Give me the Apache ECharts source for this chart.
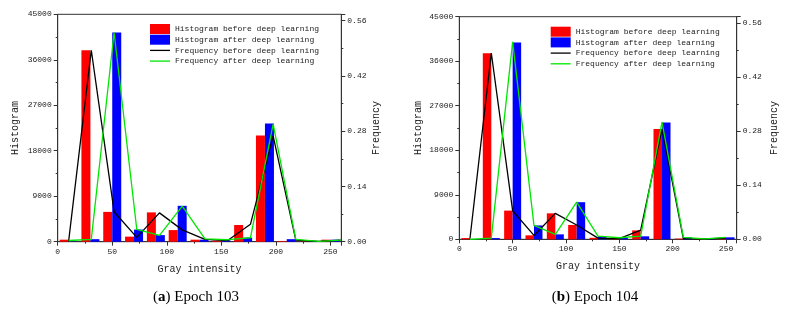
<!DOCTYPE html>
<html>
<head>
<meta charset="utf-8">
<script src="https://cdn.jsdelivr.net/npm/echarts@6/dist/echarts.min.js"></script>
<style>
  html, body { margin: 0; padding: 0; background: #fff; }
  #chart { width: 795px; height: 321px; }
</style>
</head>
<body>
<div id="chart"></div>
<script>
// bin positions (gray level) of the histogram bars
const binX = [10, 30, 50, 70, 90, 110, 130, 150, 170, 190, 210, 230, 250];
// x positions of the frequency polylines
const lineX103 = [10, 30.8, 51.7, 72.5, 93.3, 114.2, 135, 155.8, 176.7, 197.5, 218.3, 239.2, 260];
const lineX104 = [10, 30, 50, 70, 90, 110, 130, 150, 170, 190, 210, 230, 250];

// Epoch 103
const histBefore103 = [400, 37900, 5900, 1000, 5800, 2300, 400, 200, 3300, 21000, 150, 50, 400];
const histAfter103  = [50, 500, 41400, 2400, 1300, 7100, 400, 300, 800, 23400, 500, 50, 400];
const freqBefore103 = [0.001, 0.485, 0.076, 0.011, 0.073, 0.030, 0.006, 0.003, 0.044, 0.268, 0.004, 0.001, 0.004];
const freqAfter103  = [0.003, 0.006, 0.530, 0.031, 0.016, 0.090, 0.007, 0.005, 0.010, 0.298, 0.006, 0.001, 0.004];

// Epoch 104
const histBefore104 = [250, 37600, 5800, 800, 5250, 2900, 300, 200, 1800, 22300, 150, 50, 300];
const histAfter104  = [30, 250, 39800, 2800, 1000, 7500, 600, 300, 600, 23600, 400, 30, 400];
const freqBefore104 = [0.002, 0.482, 0.074, 0.010, 0.067, 0.037, 0.003, 0.002, 0.024, 0.286, 0.002, 0.001, 0.003];
const freqAfter104  = [0.000, 0.003, 0.511, 0.036, 0.013, 0.096, 0.008, 0.004, 0.008, 0.303, 0.005, 0.001, 0.005];

const names = ['Histogram before deep learning', 'Histogram after deep learning',
               'Frequency before deep learning', 'Frequency after deep learning'];

const mono = "'Liberation Mono', 'DejaVu Sans Mono', monospace";
const serif = "'Liberation Serif', 'DejaVu Serif', serif";
const axisColor = '#333';
// thin bar used as legend icon for the polylines
const lineIcon = 'path://M0,0L20,0L20,1.3L0,1.3Z';

function zip(xs, ys) {
  return xs.map((x, i) => [x, ys[i]]);
}

const panels = [
  { grid: { left: 57.7, top: 14.3, width: 283.6, height: 227.4 },
    barWidth: 9, lineX: lineX103,
    hb: histBefore103, ha: histAfter103, fb: freqBefore103, fa: freqAfter103,
    gapL: 37, gapR: 30, gapX: 23, legend: { left: 150, top: 24 },
    caption: { x: 196, y: 297, label: 'a', epoch: '103' } },
  { grid: { left: 459.3, top: 16.7, width: 277.4, height: 222.6 },
    barWidth: 8.5, lineX: lineX104,
    hb: histBefore104, ha: histAfter104, fb: freqBefore104, fa: freqAfter104,
    gapL: 36, gapR: 33, gapX: 22, legend: { left: 550.7, top: 26.7 },
    caption: { x: 595, y: 297, label: 'b', epoch: '104' } }
];

const option = {
  backgroundColor: '#fff',
  animation: false,
  grid: [], xAxis: [], yAxis: [], series: [], legend: [], graphic: []
};

panels.forEach((p, i) => {
  option.grid.push(Object.assign({ show: true, borderColor: axisColor, borderWidth: 1 }, p.grid));

  const tick = { show: true, inside: false, length: 4, lineStyle: { color: axisColor } };
  const minor = { show: true, splitNumber: 2, length: 2, lineStyle: { color: axisColor } };
  const label = { fontFamily: mono, fontSize: 8, color: '#222' };
  const nameStyle = { fontFamily: mono, fontSize: 10, color: '#222' };

  option.xAxis.push({
    type: 'value', gridIndex: i, min: 0, max: 260, interval: 50,
    name: 'Gray intensity', nameLocation: 'middle', nameGap: p.gapX, nameTextStyle: nameStyle,
    axisLine: { lineStyle: { color: axisColor, width: 1 } },
    axisTick: tick, minorTick: minor,
    axisLabel: Object.assign({ margin: 6, showMaxLabel: false, formatter: v => String(v) }, label),
    splitLine: { show: false }
  });
  option.yAxis.push({
    type: 'value', gridIndex: i, position: 'left', min: 0, max: 45000, interval: 9000,
    name: 'Histogram', nameLocation: 'middle', nameRotate: 90, nameGap: p.gapL, nameTextStyle: nameStyle,
    axisLine: { show: true, lineStyle: { color: axisColor, width: 1 } },
    axisTick: tick, minorTick: minor,
    axisLabel: Object.assign({ margin: 6, formatter: v => String(v) }, label),
    splitLine: { show: false }
  });
  option.yAxis.push({
    type: 'value', gridIndex: i, position: 'right', min: 0, max: 0.576, interval: 0.14,
    name: 'Frequency', nameLocation: 'middle', nameRotate: 90, nameGap: p.gapR, nameTextStyle: nameStyle,
    axisLine: { show: true, lineStyle: { color: axisColor, width: 1 } },
    axisTick: tick, minorTick: minor,
    axisLabel: Object.assign({ margin: 6, showMaxLabel: false, formatter: v => v.toFixed(2) }, label),
    splitLine: { show: false }
  });

  const xi = i, yl = i * 2, yr = i * 2 + 1;
  option.series.push(
    { type: 'bar', name: names[0], xAxisIndex: xi, yAxisIndex: yl, data: zip(binX, p.hb),
      barWidth: p.barWidth, barGap: '0%', itemStyle: { color: '#ff0000' } },
    { type: 'bar', name: names[1], xAxisIndex: xi, yAxisIndex: yl, data: zip(binX, p.ha),
      barWidth: p.barWidth, barGap: '0%', itemStyle: { color: '#0000ff' } },
    { type: 'line', name: names[2], xAxisIndex: xi, yAxisIndex: yr, data: zip(p.lineX, p.fb),
      symbol: 'none', lineStyle: { color: '#000000', width: 1.3 }, itemStyle: { color: '#000000' } },
    { type: 'line', name: names[3], xAxisIndex: xi, yAxisIndex: yr, data: zip(p.lineX, p.fa),
      symbol: 'none', lineStyle: { color: '#00e600', width: 1.3 }, itemStyle: { color: '#00e600' } }
  );

  option.legend.push({
    orient: 'vertical', left: p.legend.left, top: p.legend.top, padding: 0,
    itemWidth: 20, itemHeight: 10, itemGap: 0.7,
    textStyle: { fontFamily: mono, fontSize: 8, color: '#222', lineHeight: 10 },
    data: [
      { name: names[0], icon: 'rect' },
      { name: names[1], icon: 'rect' },
      { name: names[2], icon: lineIcon },
      { name: names[3], icon: lineIcon }
    ]
  });

  option.graphic.push({
    type: 'text', x: p.caption.x, y: p.caption.y,
    style: {
      text: '({b|' + p.caption.label + '}) Epoch ' + p.caption.epoch,
      textAlign: 'center', textVerticalAlign: 'middle',
      fontFamily: serif, fontSize: 15, fill: '#000',
      rich: { b: { fontFamily: serif, fontSize: 15, fontWeight: 'bold', fill: '#000' } }
    }
  });
});

const chart = echarts.init(document.getElementById('chart'));
chart.setOption(option);
</script>
</body>
</html>
